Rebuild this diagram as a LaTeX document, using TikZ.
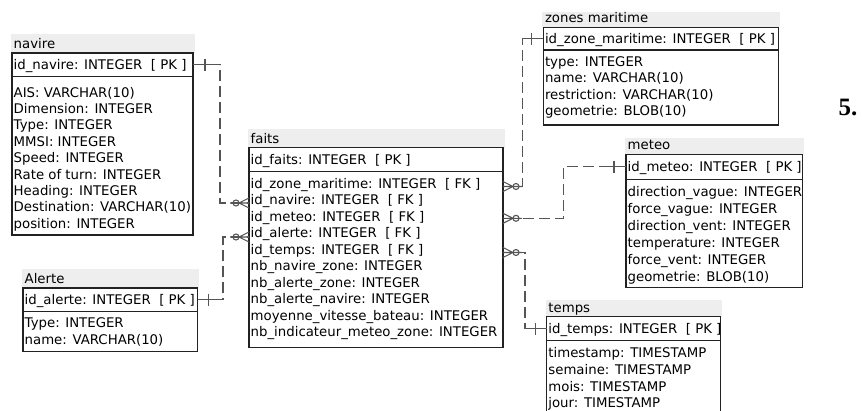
\documentclass[tikz,border=0pt]{standalone}
\usepackage{fontspec}
\setmainfont{DejaVu Sans}
\newfontfamily\numfont{Liberation Serif}
\definecolor{ttlgrey}{HTML}{EEEEEE}
\definecolor{linegrey}{HTML}{555555}
\definecolor{boxline}{HTML}{222222}
\tikzset{
 txt/.style={font=\fontsize{13.3}{16}\selectfont, anchor=base west, inner sep=0pt, text=black},
 ttlbg/.style={fill=ttlgrey, draw=none, inner sep=0pt, outer sep=0pt, anchor=north west},
 pkbox/.style={draw=boxline, line width=1.1pt, inner sep=0pt, outer sep=0pt, anchor=north west},
 conn/.style={draw=linegrey, line width=1.1pt},
 dashconn/.style={conn, dash pattern=on 11pt off 5pt},
 tick/.pic={\draw[conn] (0,-6) -- (0,6);},
 crow/.pic={\draw[conn] (0,-5) -- (10,0) -- (0,5) (0,0) -- (19,0); \draw[conn] (13,0) circle (3pt);},
}
% name, title, xL, xR, yTitleTop, yPK, yDiv, yBot
\newcommand\ertable[8]{%
 \node[ttlbg, minimum width={(#4-#3+2.5)*1pt}, minimum height={(#6-#5)*1pt}] (#1T) at (#3-1,#5) {};
 \node[txt] (#1N) at (#3+1.5,#6-4.5) {#2};
 \node[pkbox, minimum width={(#4-#3)*1pt}, minimum height={(#7-#6)*1pt}] (#1PK) at (#3,#6) {};
 \node[pkbox, minimum width={(#4-#3)*1pt}, minimum height={(#8-#7)*1pt}] (#1B) at (#3,#7) {};
}
% name, x, y1, spacing, list
\newcommand\errows[5]{%
 \foreach \t [count=\i from 0] in {#5} {\node[txt] (#1R\i) at (#2+1.5,#3+4.5+\i*#4) {\t};}
}
\begin{document}
\begin{tikzpicture}[x=1pt,y=-1pt]
\useasboundingbox (0,0) rectangle (862,410);
\clip (0,0) rectangle (862,410);

% navire
\ertable{nav}{navire}{12}{193}{34}{53}{76.5}{235}
\node[txt] (navK) at (13.5,69.2) {id\_navire: INTEGER~~[ PK ]};
\errows{nav}{12}{92.5}{16.4}{AIS: VARCHAR(10),Dimension: INTEGER,Type: INTEGER,MMSI: INTEGER,Speed: INTEGER,Rate of turn: INTEGER,Heading: INTEGER,Destination: VARCHAR(10),position: INTEGER}

% Alerte
\ertable{al}{Alerte}{23}{197.5}{269}{288}{311.7}{351.7}
\node[txt] (alK) at (24.5,304.5) {id\_alerte: INTEGER~~[ PK ]};
\errows{al}{23}{322.8}{17}{Type: INTEGER,name: VARCHAR(10)}

% faits
\ertable{fa}{faits}{249}{503}{129}{147.7}{171.7}{347.7}
\node[txt] (faK) at (250.5,164.2) {id\_faits: INTEGER~~[ PK ]};
\errows{fa}{249}{183.5}{16.55}{id\_zone\_maritime: INTEGER~~[ FK ],id\_navire: INTEGER~~[ FK ],id\_meteo: INTEGER~~[ FK ],id\_alerte: INTEGER~~[ FK ],id\_temps: INTEGER~~[ FK ],nb\_navire\_zone: INTEGER,nb\_alerte\_zone: INTEGER,nb\_alerte\_navire: INTEGER,moyenne\_vitesse\_bateau: INTEGER,nb\_indicateur\_meteo\_zone: INTEGER}

% zones maritime
\ertable{zo}{zones maritime}{543.3}{778.3}{12}{27.3}{50}{125}
\node[txt] (zoK) at (544.8,43.2) {id\_zone\_maritime: INTEGER~~[ PK ]};
\errows{zo}{543.3}{62}{16.4}{type: INTEGER,name: VARCHAR(10),restriction: VARCHAR(10),geometrie: BLOB(10)}

% meteo
\ertable{me}{meteo}{626}{802.7}{137.5}{154.3}{179.3}{287.7}
\node[txt] (meK) at (627.5,171.3) {id\_meteo: INTEGER~~[ PK ]};
\errows{me}{626}{191.5}{17}{direction\_vague: INTEGER,force\_vague: INTEGER,direction\_vent: INTEGER,temperature: INTEGER,force\_vent: INTEGER,geometrie: BLOB(10)}

% temps
\ertable{te}{temps}{546.7}{720.7}{299.5}{316.7}{340.7}{430}
\node[txt] (teK) at (548.2,333.2) {id\_temps: INTEGER~~[ PK ]};
\errows{te}{546.7}{353.3}{16.7}{timestamp: TIMESTAMP,semaine: TIMESTAMP,mois: TIMESTAMP,jour: TIMESTAMP}

% connector end points on faits
\coordinate (fNav) at (249,203);
\coordinate (fAl) at (249,237);
\coordinate (fZone) at (503,186.5);
\coordinate (fMet) at (503,218.3);
\coordinate (fTemps) at (503,252.5);

% navire -> faits
\draw[dashconn] (navPK.east) -- ++(27,0) |- (fNav);
\draw[conn] (navPK.east) -- ++(27,0);
\pic at ([xshift=12pt]navPK.east) {tick};
\pic[xscale=-1] at (fNav) {crow};

% alerte -> faits
\draw[dashconn] (alPK.east) -- ++(25.5,0) |- (fAl);
\draw[conn] (alPK.east) -- ++(25.5,0);
\pic at ([xshift=11pt]alPK.east) {tick};
\pic[xscale=-1] at (fAl) {crow};

% zones -> faits
\draw[dashconn] (zoPK.west) -- ++(-20.6,0) |- (fZone);
\draw[conn] (zoPK.west) -- ++(-20.6,0);
\pic at ([xshift=-11.5pt]zoPK.west) {tick};
\pic at (fZone) {crow};

% meteo -> faits
\draw[dashconn] (mePK.west) -- ++(-62.7,0) |- (fMet);
\draw[conn] (mePK.west) -- ++(-25,0);
\pic at ([xshift=-12pt]mePK.west) {tick};
\pic at (fMet) {crow};

% temps -> faits
\draw[dashconn] (tePK.west) -- ++(-21.7,0) |- (fTemps);
\draw[conn] (tePK.west) -- ++(-21.7,0);
\pic at ([xshift=-11.5pt]tePK.west) {tick};
\pic at (fTemps) {crow};

\node[font=\numfont\bfseries\fontsize{25}{28}\selectfont, inner sep=0pt] (num) at (848,107) {5.};
\end{tikzpicture}
\end{document}
